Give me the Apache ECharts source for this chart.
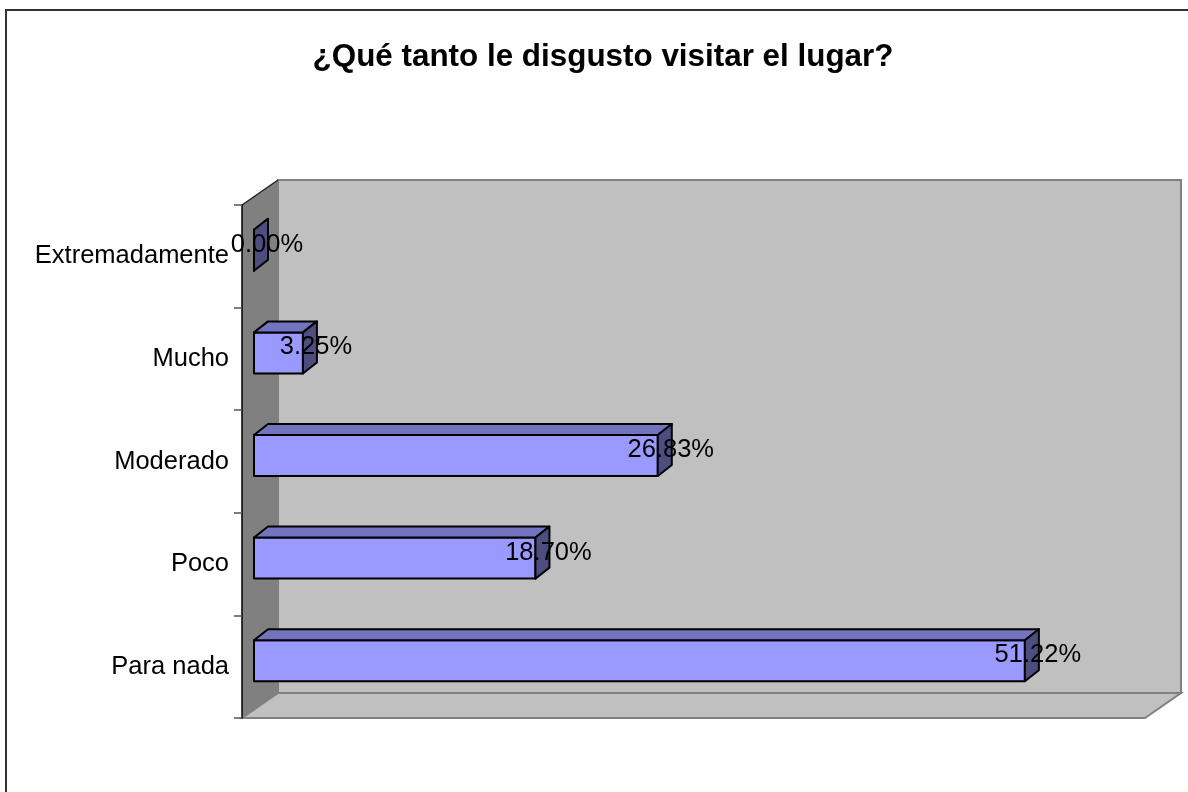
<!DOCTYPE html>
<html lang="es">
<head>
    <meta charset="UTF-8">
    <title>¿Qué tanto le disgusto visitar el lugar?</title>
    <script src="https://cdn.jsdelivr.net/npm/echarts@6/dist/echarts.min.js"></script>
    <style>
        html, body { margin: 0; padding: 0; background: #fff; }
        #chart { width: 1188px; height: 792px; }
    </style>
</head>
<body>
    <div id="chart"></div>

    <script>
        // datos (de abajo hacia arriba, como en el eje)
        var categories = ['Para nada', 'Poco', 'Moderado', 'Mucho', 'Extremadamente'];
        var values = [51.22, 18.70, 26.83, 3.25, 0.00];
        var valueLabels = ['51.22%', '18.70%', '26.83%', '3.25%', '0.00%'];
        var axisMax = 60;

        var FONT = "'Liberation Sans', Arial, sans-serif";

        // profundidad del efecto 3D
        var WALL_DX = 36, WALL_DY = -25;
        var BAR_FX = 12, BAR_FY = -6;
        var BAR_DX = 14, BAR_DY = -11;

        var myChart = echarts.init(document.getElementById('chart'));

        // paredes y piso
        function renderWalls(params, api) {
            var c = params.coordSys;
            var x0 = c.x, y0 = c.y, x1 = c.x + c.width, y1 = c.y + c.height;
            return {
                type: 'group',
                children: [
                    {
                        type: 'rect',
                        shape: { x: x0 + WALL_DX, y: y0 + WALL_DY, width: c.width, height: c.height },
                        style: { fill: '#c0c0c0', stroke: '#808080', lineWidth: 2 }
                    },
                    {
                        type: 'polygon',
                        shape: { points: [[x0, y0], [x0 + WALL_DX, y0 + WALL_DY], [x0 + WALL_DX, y1 + WALL_DY], [x0, y1]] },
                        style: { fill: '#808080' }
                    },
                    {
                        type: 'polyline',
                        shape: { points: [[x0, y0], [x0 + WALL_DX, y0 + WALL_DY]] },
                        style: { stroke: '#222', lineWidth: 1.5, fill: null }
                    },
                    {
                        type: 'polygon',
                        shape: { points: [[x0, y1], [x0 + WALL_DX, y1 + WALL_DY], [x1 + WALL_DX, y1 + WALL_DY], [x1, y1]] },
                        style: { fill: '#c0c0c0', stroke: '#808080', lineWidth: 2 }
                    }
                ]
            };
        }

        // barras 3D
        function renderBar(params, api) {
            var v = api.value(0), idx = api.value(1);
            var start = api.coord([0, idx]);
            var end = api.coord([v, idx]);
            var h = api.size([0, 1])[1] * 0.4;
            var left = start[0] + BAR_FX, right = end[0] + BAR_FX;
            var top = end[1] - h / 2 + BAR_FY, bottom = top + h;
            var edge = { stroke: '#000', lineWidth: 2, lineJoin: 'round' };
            return {
                type: 'group',
                children: [
                    {
                        type: 'rect',
                        shape: { x: left, y: top, width: right - left, height: h },
                        style: Object.assign({ fill: '#9999ff' }, edge)
                    },
                    {
                        type: 'polygon',
                        shape: { points: [[left, top], [left + BAR_DX, top + BAR_DY], [right + BAR_DX, top + BAR_DY], [right, top]] },
                        style: Object.assign({ fill: '#7373bf' }, edge)
                    },
                    {
                        type: 'polygon',
                        shape: { points: [[right, top], [right + BAR_DX, top + BAR_DY], [right + BAR_DX, bottom + BAR_DY], [right, bottom]] },
                        style: Object.assign({ fill: '#4d4d80' }, edge)
                    },
                    {
                        type: 'text',
                        x: right + 13,
                        y: (top + bottom) / 2 - 5.5,
                        z2: 10,
                        style: {
                            text: valueLabels[params.dataIndex],
                            fill: '#000',
                            font: '25.5px ' + FONT,
                            align: 'center',
                            verticalAlign: 'middle'
                        }
                    }
                ]
            };
        }

        var option = {
            backgroundColor: '#fff',
            animation: false,
            graphic: [
                {
                    type: 'rect',
                    shape: { x: 6, y: 10, width: 1200, height: 800 },
                    style: { fill: null, stroke: '#333', lineWidth: 2 }
                },
                {
                    type: 'text',
                    x: 603,
                    y: 57,
                    style: {
                        text: '¿Qué tanto le disgusto visitar el lugar?',
                        fill: '#000',
                        font: 'bold 31.4px ' + FONT,
                        align: 'center',
                        verticalAlign: 'middle'
                    }
                }
            ],
            grid: {
                left: 242,
                top: 205,
                width: 903,
                height: 513
            },
            xAxis: {
                type: 'value',
                min: 0,
                max: axisMax,
                show: false
            },
            yAxis: {
                type: 'category',
                data: categories,
                z: 10,
                axisLine: { lineStyle: { color: '#000', width: 1.5 } },
                axisTick: { show: true, length: 8, lineStyle: { color: '#555', width: 1.5 } },
                axisLabel: { color: '#000', fontFamily: FONT, fontSize: 25.5, margin: 13 },
                splitLine: { show: false }
            },
            series: [
                {
                    name: 'paredes',
                    type: 'custom',
                    silent: true,
                    z: 1,
                    renderItem: renderWalls,
                    data: [[0, 0]]
                },
                {
                    name: 'valores',
                    type: 'custom',
                    z: 3,
                    renderItem: renderBar,
                    data: values.map(function (v, i) { return [v, i]; })
                }
            ]
        };

        myChart.setOption(option);
    </script>
</body>
</html>
